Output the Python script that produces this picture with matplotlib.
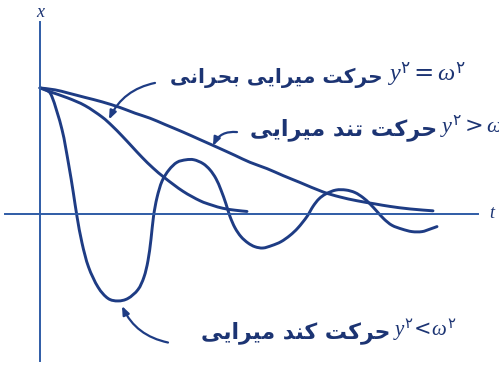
import matplotlib
matplotlib.use("Agg")
import matplotlib.pyplot as plt
import matplotlib.patches as mpatches
from matplotlib.path import Path
import numpy as np

plt.rcParams["mathtext.fontset"] = "custom"
plt.rcParams["mathtext.it"] = "Liberation Serif:italic"
plt.rcParams["mathtext.rm"] = "DejaVu Sans"

# displacement x(t), starting from x = 1 at t = 0
t_over = [0, 1.5, 2.8, 4.5, 6.2, 8.0, 9.5, 11.0, 12.5, 14.3, 16.0, 17.7, 19.5, 21.0,
          22.7, 24.3, 26.0, 28.3, 30.0, 31.7, 33.5, 35.0, 37.0, 39.3]
x_over = [1.00, 0.985, 0.96, 0.925, 0.89, 0.845, 0.80, 0.76, 0.71, 0.65, 0.59, 0.53, 0.465,
          0.41, 0.36, 0.305, 0.25, 0.175, 0.135, 0.105, 0.08, 0.06, 0.04, 0.025]

t_crit = [0, 1.0, 2.8, 4.5, 6.2, 7.2, 8.2, 9.2, 10.2, 11.3, 12.5, 14.3, 16.0, 17.2, 18.3,
          19.5, 20.7]
x_crit = [1.00, 0.97, 0.92, 0.86, 0.77, 0.70, 0.62, 0.535, 0.45, 0.365, 0.285, 0.18, 0.105,
          0.07, 0.045, 0.03, 0.02]

t_under = [0, 0.6, 1.2, 2.2, 2.85, 3.33, 3.7, 4.2, 4.85, 5.8, 6.8, 7.8, 8.8, 9.8, 10.4,
           10.8, 11.1, 11.35, 11.7, 12.2, 12.9, 13.7, 14.6, 15.4, 16.3, 17.0, 17.6, 18.1,
           18.6, 19.0, 19.5, 20.1, 20.8, 21.5, 22.3, 23.2, 24.1, 25.0, 25.8, 26.7, 27.3,
           27.9, 28.6, 29.6, 30.6, 31.5, 32.3, 33.0, 33.7, 34.4, 35.2, 36.2, 37.2, 38.2,
           39.0, 39.7]
x_under = [1.00, 0.985, 0.93, 0.67, 0.40, 0.17, -0.02, -0.23, -0.42, -0.58, -0.67, -0.69,
           -0.67, -0.60, -0.50, -0.37, -0.20, -0.02, 0.13, 0.26, 0.35, 0.41, 0.43, 0.43,
           0.40, 0.35, 0.28, 0.19, 0.08, -0.02, -0.11, -0.18, -0.23, -0.26, -0.27, -0.25,
           -0.22, -0.17, -0.11, -0.02, 0.06, 0.12, 0.16, 0.19, 0.19, 0.17, 0.13, 0.08, 0.02,
           -0.04, -0.09, -0.12, -0.14, -0.14, -0.12, -0.10]

# Persian words, written in shaped (presentation) forms, left-to-right visual order
harakat = "\uFE96\uFB90\uFEAE\uFEA3"
mirayi = "\uFBFD\uFBFE\uFE8D\uFEAE\uFBFF\uFEE3"
bohrani = "\uFBFD\uFEE7\uFE8D\uFEAE\uFEA4\uFE91"
tond = "\uFEAA\uFEE8\uFE97"
kond = "\uFEAA\uFEE8\uFB90"

label_crit = bohrani + " " + mirayi + " " + harakat
label_over = mirayi + " " + tond + " " + harakat
label_under = mirayi + " " + kond + " " + harakat
eq_crit = r"$y^{\mathrm{۲}}=\omega^{\mathrm{۲}}$"
eq_over = r"$y^{\mathrm{۲}}>\omega^{\mathrm{۲}}$"
eq_under = r"$y^{\mathrm{۲}}\!<\!\omega^{\mathrm{۲}}$"

line_c = "#1e3c84"
axis_c = "#2f5ca6"
text_c = "#1c3473"


def smooth_path(ts, xs):
    # Catmull-Rom through the points, drawn as cubic Bezier segments
    pts = np.column_stack([ts, xs])
    verts = [pts[0]]
    codes = [Path.MOVETO]
    n = len(pts)
    for i in range(n - 1):
        p0 = pts[i - 1] if i > 0 else pts[i]
        p1, p2 = pts[i], pts[i + 1]
        p3 = pts[i + 2] if i + 2 < n else pts[i + 1]
        verts += [p1 + (p2 - p0) / 6, p2 - (p3 - p1) / 6, p2]
        codes += [Path.CURVE4] * 3
    return Path(verts, codes)


fig = plt.figure(figsize=(4.99, 3.71), dpi=100)
ax = fig.add_axes([0, 0, 1, 1])
ax.set_xlim(-4.0, 45.9)
ax.set_ylim(-1.246, 1.698)
ax.axis("off")

# axes
ax.plot([-3.5, 43.8], [0, 0], color=axis_c, lw=1.4)
ax.plot([0, 0], [-1.17, 1.52], color=axis_c, lw=1.4)
ax.text(0, 1.60, "x", fontsize=13, family="Liberation Serif", style="italic",
        color=text_c, ha="center", va="center")
ax.text(45.2, 0.0, "t", fontsize=13, family="Liberation Serif", style="italic",
        color=text_c, ha="center", va="center")

for ts, xs in [(t_over, x_over), (t_crit, x_crit), (t_under, x_under)]:
    ax.add_patch(mpatches.PathPatch(smooth_path(ts, xs), fill=False, edgecolor=line_c,
                                    lw=2.1, capstyle="round", joinstyle="round"))

arrow = dict(arrowstyle="-|>,head_length=0.5,head_width=0.2", color=line_c, lw=1.6,
             shrinkA=0, shrinkB=0)
ax.annotate("", xy=(t_crit[5] - 0.3, x_crit[5] + 0.05), xytext=(11.5, 1.04),
            arrowprops=dict(arrow, connectionstyle="arc3,rad=0.25"))
ax.annotate("", xy=(t_over[11] - 0.4, x_over[11] + 0.01), xytext=(19.7, 0.65),
            arrowprops=dict(arrow, connectionstyle="arc3,rad=0.35"))
ax.annotate("", xy=(t_under[11] + 0.4, x_under[11] - 0.04), xytext=(12.8, -1.02),
            arrowprops=dict(arrow, connectionstyle="arc3,rad=-0.25"))

# labels
fa = dict(family=["DejaVu Sans"], weight="bold", color=text_c, va="center", ha="right")
eq = dict(color=text_c, va="center", ha="left")
ax.text(34.3, 1.08, label_crit, fontsize=14.5, **fa)
ax.text(34.7, 1.10, eq_crit, fontsize=17.5, **eq)
ax.text(39.7, 0.67, label_over, fontsize=16, **fa)
ax.text(40.0, 0.69, eq_over, fontsize=16, **eq)
ax.text(35.0, -0.94, label_under, fontsize=15.8, **fa)
ax.text(35.3, -0.92, eq_under, fontsize=15, **eq)

fig.savefig("out.png", dpi=100)
